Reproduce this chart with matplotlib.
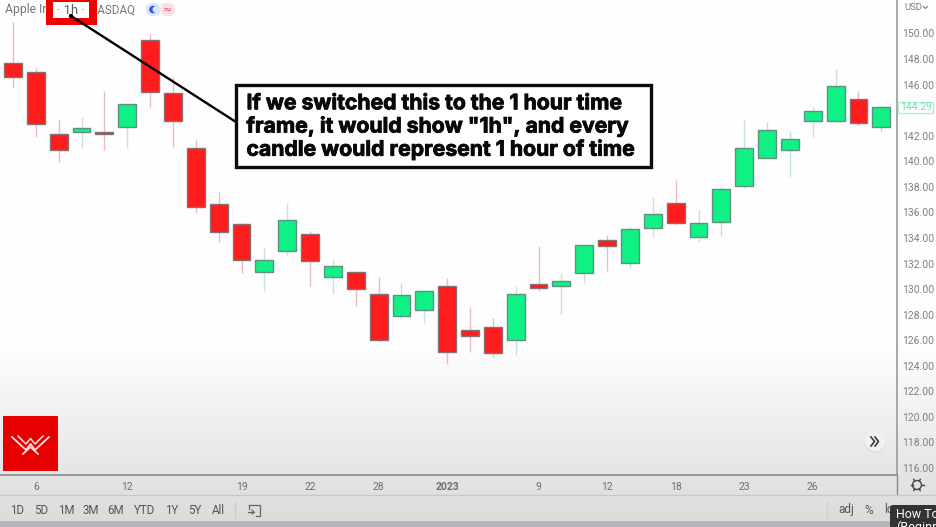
import numpy as np
import matplotlib
matplotlib.use('Agg')
import matplotlib.pyplot as plt
from matplotlib.patches import Rectangle, Circle, FancyBboxPatch
import matplotlib.patheffects as pe

plt.rcParams['font.family'] = ['Roboto', 'DejaVu Sans']

# daily candles
opens = [147.69, 146.99, 142.14, 142.29, 142.29, 142.68, 149.49, 145.34, 141.04, 136.66,
         135.09, 131.34, 132.98, 134.31, 130.95, 131.34, 129.62, 127.90, 128.36, 130.24,
         126.80, 127.03, 126.02, 130.40, 130.24, 131.26, 133.84, 132.04, 134.78, 136.74,
         134.08, 135.25, 138.07, 140.26, 140.88, 143.15, 143.15, 144.87, 142.68]
closes = [146.60, 142.92, 140.88, 142.61, 142.14, 144.48, 145.42, 143.15, 136.42, 134.47,
          132.28, 132.28, 135.41, 132.20, 131.81, 130.01, 126.02, 129.54, 129.85, 125.08,
          126.33, 125.00, 129.62, 130.09, 130.63, 133.45, 133.37, 134.70, 135.88, 135.17,
          135.17, 137.83, 141.04, 142.45, 141.74, 143.94, 145.89, 143.00, 144.25]
highs = [150.90, 147.30, 143.31, 143.47, 145.50, 144.48, 149.96, 146.60, 141.74, 137.60,
         135.17, 133.22, 136.74, 134.55, 132.28, 131.34, 130.95, 130.48, 129.85, 130.87,
         128.60, 127.74, 130.24, 133.37, 131.26, 133.45, 134.23, 134.86, 137.21, 138.54,
         136.19, 137.99, 143.23, 143.08, 142.37, 144.25, 147.22, 145.50, 144.33]
lows = [145.74, 141.90, 139.95, 141.12, 140.88, 141.04, 144.25, 141.12, 135.95, 133.69,
        131.26, 129.85, 132.67, 130.24, 129.62, 128.68, 125.86, 127.66, 127.35, 124.14,
        125.08, 124.69, 124.84, 129.85, 128.05, 130.48, 131.42, 131.65, 134.08, 135.02,
        133.69, 134.15, 137.91, 140.26, 138.77, 141.90, 143.08, 142.84, 142.29]

date_pos = [1, 5, 10, 13, 16, 19, 23, 26, 29, 32, 35]
date_labels = ['6', '12', '19', '22', '28', '2023', '9', '12', '18', '23', '26']
price_ticks = list(range(116, 152, 2))
last_price = 144.29

range_buttons = ['1D', '5D', '1M', '3M', '6M', 'YTD', '1Y', '5Y', 'All']
range_button_x = [17, 41, 66, 91, 116, 145, 172, 195, 218]
callout = 'If we switched this to the 1 hour time\nframe, it would show "1h", and every\ncandle would represent 1 hour of time'

W, H = 936, 527
AXIS_Y, AXIS_X = 475, 897
fig = plt.figure(figsize=(W / 100, H / 100), dpi=100)

# background gradient
bg = fig.add_axes([0, 0, 1, 1])
rows = np.arange(H)
shade = np.interp(rows, [0, 340, 475, 521, 527], [254, 254, 228, 218, 218])
bg.imshow(shade[:, None], cmap='gray', vmin=0, vmax=255, aspect='auto', extent=[0, W, H, 0])
bg.axis('off')

# candles
ax = fig.add_axes([0, (H - AXIS_Y) / H, AXIS_X / W, AXIS_Y / H])
ax.patch.set_alpha(0)
x = np.arange(len(opens))
opens = np.array(opens)
closes = np.array(closes)
highs = np.array(highs)
lows = np.array(lows)
up = closes >= opens
ax.vlines(x[up], lows[up], highs[up], color='#c6e0dc', lw=1, zorder=1)
ax.vlines(x[~up], lows[~up], highs[~up], color='#efb9c6', lw=1, zorder=1)
ax.bar(x[up], (closes - opens)[up], bottom=opens[up], width=0.78, color='#0ff085',
       edgecolor='#5f9080', lw=1, zorder=2)
ax.bar(x[~up], (opens - closes)[~up], bottom=closes[~up], width=0.78, color='#ff1c1c',
       edgecolor='#8a7070', lw=1, zorder=2)
ax.set_xlim((0 - 13) / 22.85, (AXIS_X - 13) / 22.85)
ax.set_ylim(150 - (AXIS_Y - 33.5) / 12.78, 150 + 33.5 / 12.78)
ax.yaxis.tick_right()
ax.set_yticks(price_ticks, ['%.2f' % p for p in price_ticks])
ax.set_xticks(date_pos, date_labels)
ax.tick_params(axis='y', length=0, pad=3.5, labelsize=7.5, labelcolor='#808080')
ax.tick_params(axis='x', length=0, pad=5, labelsize=7.5, labelcolor='#6e6e6e')
for lab in ax.get_xticklabels():
    if lab.get_text() == '2023':
        lab.set_fontweight('bold')
for s in ['top', 'left']:
    ax.spines[s].set_visible(False)
ax.spines['bottom'].set_color('#9a9a9a')
ax.spines['bottom'].set_linewidth(1.5)
ax.spines['right'].set_color('#9a9a9a')
ax.spines['right'].set_linewidth(1.2)

# everything else sits in pixel coordinates
ov = fig.add_axes([0, 0, 1, 1])
ov.set_xlim(0, W)
ov.set_ylim(H, 0)
ov.axis('off')
ov.patch.set_alpha(0)

ov.plot([AXIS_X, AXIS_X], [AXIS_Y, 495], color='#8a8a8a', lw=1)
ov.plot([0, W], [495, 495], color='#c8c8c8', lw=1)
ov.add_patch(Rectangle((0, 521), W, 6, color='#b4b7bc', lw=0))

# header
ov.text(5, 10, 'Apple Inc', fontsize=8.7, color='#777777', va='center')
ov.text(134.5, 10, 'NASDAQ', fontsize=8.4, color='#777777', va='center', ha='right')
ov.add_patch(Rectangle((46, 0), 51, 25, color='#f00000', lw=0, zorder=3))
ov.add_patch(Rectangle((53, 2), 36, 16, color='white', lw=0, zorder=3))
ov.text(71, 10, '· 1h ·', fontsize=9.3, color='#5a5a5a', va='center', ha='center', zorder=4)
ov.add_patch(FancyBboxPatch((148.5, 5.5), 9.5, 8, boxstyle='round,pad=2.5,rounding_size=6',
                            color='#dde5fb', lw=0))
ov.add_patch(FancyBboxPatch((163, 5.5), 9.5, 8, boxstyle='round,pad=2.5,rounding_size=6',
                            color='#fbe0e6', lw=0))
ov.add_patch(Circle((153, 9.5), 3.8, color='#2f55e8', lw=0))
ov.add_patch(Circle((155.7, 9.5), 3.2, color='#dde5fb', lw=0))
ov.text(167, 9.5, '≈', fontsize=8, color='#e0506e', ha='center', va='center', family='DejaVu Sans')
ov.text(904, 7.5, 'USD', fontsize=6.8, color='#7a7a7a', va='center')
ov.plot([923.5, 925.5, 927.5], [6.5, 8.5, 6.5], color='#7a7a7a', lw=0.8)

# last price tag
ov.add_patch(Rectangle((898, 101.5), 35, 11.5, facecolor='white', edgecolor='#a8f3d0', lw=1, zorder=3))
ov.text(916, 107.5, '%.2f' % last_price, fontsize=7.5, color='#6fe0ae', ha='center', va='center', zorder=4)

# callout with its leader
ov.plot([71, 236], [16, 122], color='black', lw=1.7, zorder=5)
ov.add_patch(Circle((71, 16), 2.2, color='black', lw=0, zorder=5))
ov.add_patch(Rectangle((235.5, 84.5), 415, 82.5, facecolor='white', edgecolor='#0a0a0a', lw=2.4, zorder=6))
txt = ov.text(246.5, 126.5, callout, fontsize=15.25, fontweight='bold', family=['Inter', 'Roboto'],
              color='#080808', va='center', ha='left', linespacing=1.13, zorder=7)
txt.set_path_effects([pe.withStroke(linewidth=0.6, foreground='#080808')])

# logo
ov.add_patch(Rectangle((3, 416), 55, 55, color='#e60000', lw=0))
ov.plot([12, 26, 30.5, 35, 49], [437, 450, 444, 450, 437], color='#f6dcdc', lw=1.3)
ov.plot([18, 26, 30.5, 35, 43], [436, 444, 438.5, 444, 436], color='#f6dcdc', lw=1.1)
ov.plot([23, 30.5, 38], [454, 447, 454], color='#f6dcdc', lw=1.3)

# scroll button
ov.add_patch(Circle((875, 442), 10.5, color='#d2d2d2', lw=0))
ov.add_patch(Circle((875, 441), 10.5, color='#f1f1f1', lw=0))
ov.plot([871, 874.5, 871], [437, 441.5, 446], color='#3c3c3c', lw=1.2)
ov.plot([875, 878.5, 875], [437, 441.5, 446], color='#3c3c3c', lw=1.2)

# settings icon
ov.add_patch(Circle((917, 485), 4.5, facecolor='none', edgecolor='#444444', lw=1))
for a in np.arange(0, 2 * np.pi, np.pi / 3):
    ov.plot([917 + 4.5 * np.cos(a), 917 + 6.5 * np.cos(a)],
            [485 + 4.5 * np.sin(a), 485 + 6.5 * np.sin(a)], color='#444444', lw=1)

# bottom toolbar
for label, bx in zip(range_buttons, range_button_x):
    ov.text(bx, 510, label, fontsize=8.3, color='#555555', ha='center', va='center')
ov.plot([235, 235], [502, 518], color='#cccccc', lw=1)
ov.plot([827, 827], [501, 518], color='#d0d0d0', lw=1)
ov.plot([249, 260, 260, 256], [505, 505, 516, 516], color='#666666', lw=0.9)
ov.plot([249, 249], [505, 509], color='#666666', lw=0.9)
ov.plot([248, 254], [512, 512], color='#666666', lw=0.9)
ov.plot([252, 254, 252], [510, 512, 514], color='#666666', lw=0.9)
ov.text(846, 510, 'adj', fontsize=8.5, color='#555555', ha='center', va='center')
ov.text(868.5, 510, '%', fontsize=8.5, color='#555555', ha='center', va='center')
ov.text(884, 510, 'log', fontsize=8.5, color='#555555', ha='left', va='center')

# tooltip cut off by the frame
ov.add_patch(FancyBboxPatch((890, 505), 60, 30, boxstyle='round,pad=0,rounding_size=3',
                            color='#333333', lw=0, zorder=8))
ov.text(896, 514, 'How To', fontsize=9, color='white', va='center', zorder=9)
ov.text(896, 527, '(Beginn', fontsize=9, color='white', va='center', zorder=9)

fig.savefig('out.png', dpi=100)
